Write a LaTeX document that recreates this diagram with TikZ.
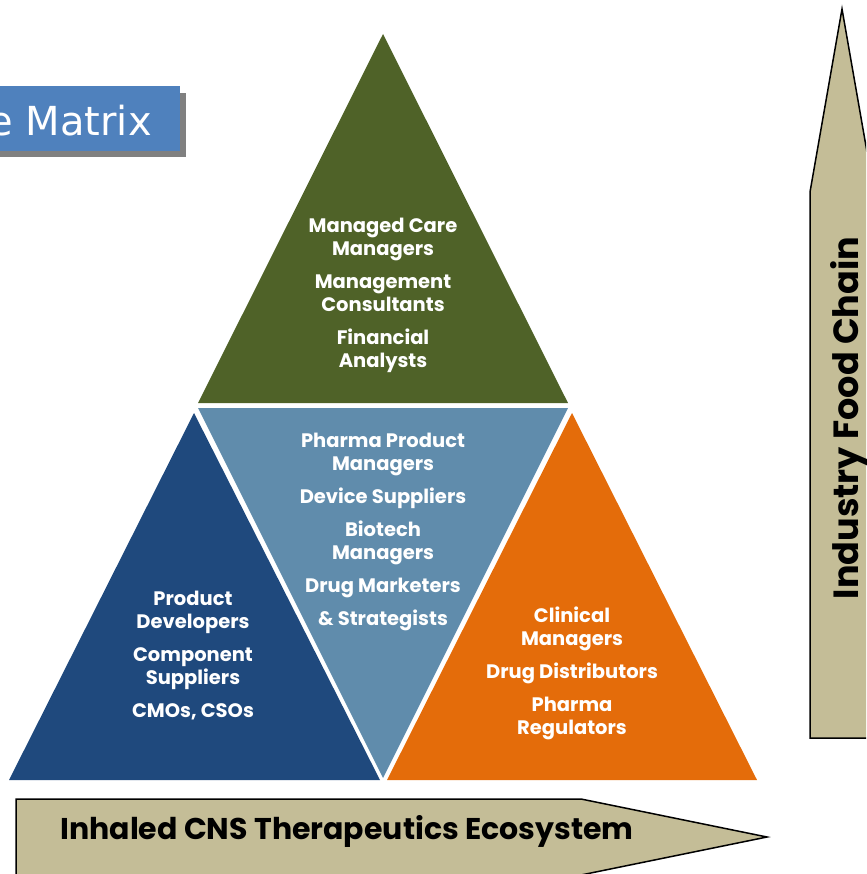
\documentclass[tikz,border=0pt]{standalone}
\usepackage{fontspec}
\setmainfont{Poppins}
\newfontfamily\boxfont{DejaVu Sans}
\usetikzlibrary{positioning}

\definecolor{olivegreen}{RGB}{79,98,40}
\definecolor{steelblue}{RGB}{96,140,172}
\definecolor{navyblue}{RGB}{31,73,125}
\definecolor{burntorange}{RGB}{228,108,10}
\definecolor{khaki}{RGB}{196,189,151}
\definecolor{titleblue}{RGB}{79,129,189}

\begin{document}
\begin{tikzpicture}[x=1pt, y=-1pt,
    tri/.style={text=white, align=center, inner sep=0pt, font=\fontsize{19.5}{23}\selectfont\bfseries},
    band/.style={fill=khaki, draw=black, line width=1.5pt, line join=miter}]
    \useasboundingbox (0,0) rectangle (866,874);
    \clip (0,0) rectangle (866,874);

    % Title box
    \fill [black!50]    (-10,93) rectangle (186,157);
    \fill [titleblue]   (-10,86) rectangle (180,151);
    \node [anchor=base east, inner sep=0pt, text=white, font=\boxfont\fontsize{40}{44}\selectfont] (title) at (152,136) {e Matrix};

    % Triangles
    \fill [olivegreen]  (383,34)  -- (568,403) -- (198,403) -- cycle;
    \fill [steelblue]   (198,408) -- (568,408) -- (383,778) -- cycle;
    \fill [navyblue]    (194,413) -- (380,780) -- (9,780)   -- cycle;
    \fill [burntorange] (572,413) -- (757,780) -- (387,780) -- cycle;

    % Labels
    \node [tri] (finance)  at (383,295) {Managed Care\\ Managers\\[10pt] Management\\ Consultants\\[10pt] Financial\\ Analysts};
    \node [tri] (pharma)   at (383,532) {Pharma Product\\ Managers\\[10pt] Device Suppliers\\[10pt] Biotech\\ Managers\\[10pt] Drug Marketers\\[10pt] \& Strategists};
    \node [tri] (devices)  at (193,656) {Product\\ Developers\\[10pt] Component\\ Suppliers\\[10pt] CMOs, CSOs};
    \node [tri] (clinical) at (572,673) {Clinical\\ Managers\\[10pt] Drug Distributors\\[10pt] Pharma\\ Regulators};

    % Arrows
    \draw [band] (810,738) -- (810,192) -- (842,9) -- (874,192) -- (874,738) -- cycle;
    \draw [band] (16,880) -- (16,799) -- (581,799) -- (767,837) -- (581,875) -- (16,875);
    \node [rotate=90, inner sep=0pt, font=\fontsize{35}{38}\selectfont\bfseries] (foodchain) at (849,418) {Industry Food Chain};
    \node [inner sep=0pt, font=\fontsize{30}{34}\selectfont\bfseries] (ecosystem) at (347,831) {Inhaled CNS Therapeutics Ecosystem};
\end{tikzpicture}
\end{document}
